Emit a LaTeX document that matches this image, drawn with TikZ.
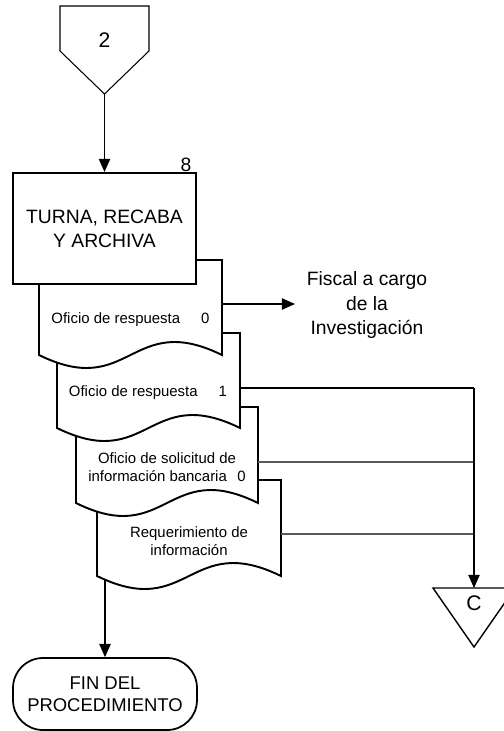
\documentclass[tikz,border=0pt]{standalone}
\usepackage{fontspec}
\setmainfont{Liberation Sans}
\usetikzlibrary{calc, arrows.meta}

\begin{document}
\begin{tikzpicture}[
		x = 0.02cm, y = -0.02cm,
		every node/.style = {inner sep = 0pt, align = center},
		proc/.style  = {draw, line width = 1.2pt, fill = white, minimum width = 3.66cm, minimum height = 2.22cm, font = \fontsize{11}{13.6}\selectfont},
		docu/.style  = {draw, line width = 1.1pt, fill = white},
		doctext/.style = {font = \fontsize{8.5}{10.6}\selectfont},
		bigtext/.style = {font = \fontsize{11}{14}\selectfont},
		conn/.style  = {line width = 0.6pt},
		arr/.style   = {conn, -{Triangle[length = 7.5pt, width = 6.5pt]}},
		term/.style  = {draw, line width = 1pt, rounded corners = 17pt, minimum width = 3.68cm, minimum height = 1.44cm, font = \fontsize{10.5}{12.6}\selectfont}
		]
		\useasboundingbox (0,0) rectangle (504,731);
		
		% off page connector
		\draw[line width = 0.6pt] (60,6) -- (149,6) -- (149,51) -- (104.5,94) -- (60,51) -- cycle;
		\coordinate (TwoTip) at (104.5,94);
		\node[bigtext, font = \fontsize{12}{14}\selectfont] (Two) at (104.5,40) {2};
		
		% documents, back to front
		\filldraw[docu] (97,576) -- (97,480) -- (281,480) -- (281,576)
			.. controls (189,531) and (189,621) .. (97,576) -- cycle;
		\filldraw[docu] (76,503) -- (76,407) -- (258,407) -- (258,503)
			.. controls (167,458) and (167,548) .. (76,503) -- cycle;
		\filldraw[docu] (57,428) -- (57,333) -- (240,333) -- (240,428)
			.. controls (148.5,383) and (148.5,473) .. (57,428) -- cycle;
		\filldraw[docu] (39,355) -- (39,260) -- (222,260) -- (222,355)
			.. controls (130.5,310) and (130.5,400) .. (39,355) -- cycle;
		
		\node[proc] (Turna) at (104.5,228.5) {TURNA, RECABA\\Y ARCHIVA};
		\node[bigtext, anchor = south east] (Num) at (Turna.north east) {8\hspace{3pt}};
		
		% texts of the documents
		\node[doctext] (DocA) at (130.5,320) {Oficio de respuesta\hspace{12pt}0};
		\node[doctext] (DocB) at (148,393) {Oficio de respuesta\hspace{12pt}1};
		\node[doctext] (DocC) at (167,467) {Oficio de solicitud de\\información bancaria\hspace{6pt}0};
		\node[doctext] (DocD) at (189,541) {Requerimiento de\\información};
		
		\coordinate (DocAr) at (222,304);
		\coordinate (DocBr) at (240,388);
		\coordinate (DocCr) at (258,462);
		\coordinate (DocDr) at (281,534);
		\coordinate (DocDb) at (105,580);
		
		\node[bigtext] (Fiscal) at (367,305) {Fiscal a cargo\\de la\\Investigación};
		
		% connector C
		\draw[line width = 0.8pt] (433,588) -- (515,588) -- (474,647) -- cycle;
		\coordinate (CTop) at (474,588);
		\node[bigtext, font = \fontsize{12}{14}\selectfont] (C) at (474,603) {C};
		
		\node[term] (Fin) at (105,694) {FIN DEL\\PROCEDIMIENTO};
		
		% connectors
		\draw[arr] (TwoTip) -- (Turna.north);
		\draw[arr] (DocAr) -- (295,304);
		\coordinate (JB) at (474,388);
		\coordinate (JC) at (474,462);
		\coordinate (JD) at (474,534);
		\draw[conn] (DocBr) -- (JB);
		\draw[conn, gray!70!black] (DocCr) -- (JC);
		\draw[conn, gray!70!black] (DocDr) -- (JD);
		\draw[arr] (JB) -- (CTop);
		\draw[arr] (DocDb) -- (Fin.north);
	\end{tikzpicture}
\end{document}
